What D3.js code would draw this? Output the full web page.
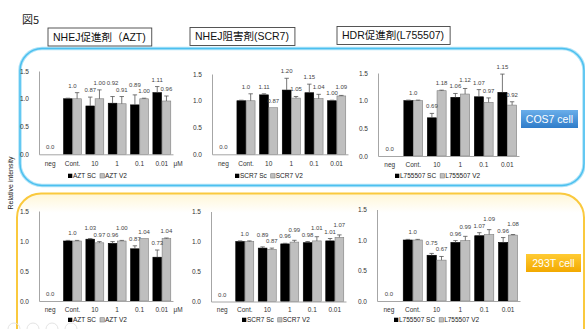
<!DOCTYPE html>
<html><head><meta charset="utf-8">
<script src="https://cdn.jsdelivr.net/npm/d3@7"></script>
<style>
body{margin:0;background:#fff;}
svg{display:block;font-family:"Liberation Sans",Arial,"Noto Sans CJK JP",sans-serif;}
</style>
</head><body>
<svg id="c" width="585" height="329"></svg>
<script>
// ---------- data ----------
const figureTitle = "図5";
const categories = ["neg", "Cont.", "10", "1", "0.1", "0.01"];
const tickValues = [0, 0.5, 1.0, 1.5];
const drugTitles = ["NHEJ促進剤（AZT)", "NHEJ阻害剤(SCR7)", "HDR促進剤(L755507)"];
const cellLabels = ["COS7 cell", "293T cell"];
const unitLabel = "μM";
const yAxisTitle = "Relative intensity";
const legendAZT = ["AZT SC", "AZT V2"];
const legendSCR7 = ["SCR7 Sc", "SCR7 V2"];
const legendL755 = ["L755507 SC", "L755507 V2"];

// COS7 cell
const cosAztSC      = [0, 1.0, 0.87, 0.92, 0.89, 1.11];
const cosAztSCErr   = [0, 0.01, 0.16, 0.12, 0.18, 0.11];
const cosAztV2      = [0, 1.0, 1.00, 0.91, 1.00, 0.96];
const cosAztV2Err   = [0, 0.11, 0.16, 0.13, 0.01, 0.09];
const cosScrSC      = [0, 1.0, 1.11, 1.20, 1.15, 1.00];
const cosScrSCErr   = [0, 0.01, 0.02, 0.22, 0.16, 0.01];
const cosScrV2      = [0, 1.0, 0.87, 1.05, 1.04, 1.09];
const cosScrV2Err   = [0, 0.13, 0.00, 0.03, 0.08, 0.01];
const cosL755SC     = [0, 1.0, 0.69, 1.06, 1.07, 1.15];
const cosL755SCErr  = [0, 0.01, 0.08, 0.07, 0.13, 0.33];
const cosL755V2     = [0, 1.0, 1.18, 1.12, 0.97, 0.92];
const cosL755V2Err  = [0, 0.01, 0.01, 0.10, 0.08, 0.06];
// 293T cell
const t293AztSC     = [0, 1.0, 1.03, 0.96, 0.87, 0.73];
const t293AztSCErr  = [0, 0.01, 0.01, 0.03, 0.05, 0.12];
const t293AztV2     = [0, 1.0, 0.97, 1.00, 1.04, 1.04];
const t293AztV2Err  = [0, 0.01, 0.02, 0.01, 0.00, 0.01];
const t293ScrSC     = [0, 1.0, 0.89, 0.96, 0.98, 1.01];
const t293ScrSCErr  = [0, 0.01, 0.02, 0.01, 0.02, 0.04];
const t293ScrV2     = [0, 1.0, 0.87, 0.99, 1.01, 1.07];
const t293ScrV2Err  = [0, 0.01, 0.02, 0.03, 0.07, 0.04];
const t293L755SC    = [0, 1.0, 0.75, 0.96, 1.07, 0.96];
const t293L755SCErr = [0, 0.01, 0.03, 0.03, 0.05, 0.08];
const t293L755V2    = [0, 1.0, 0.67, 0.99, 1.09, 1.08];
const t293L755V2Err = [0, 0.01, 0.06, 0.07, 0.08, 0.01];

// ---------- layout ----------
const panels = [
  {x0:39,  x1:173, yb:154.3, yt:71,  legX:68,  legY:176, xPad:7, unit:true,
   sc:cosAztSC, scErr:cosAztSCErr, v2:cosAztV2, v2Err:cosAztV2Err, leg:legendAZT},
  {x0:212, x1:348, yb:154.3, yt:74,  legX:235, legY:176, xPad:7, unit:false,
   sc:cosScrSC, scErr:cosScrSCErr, v2:cosScrV2, v2Err:cosScrV2Err, leg:legendSCR7},
  {x0:378, x1:519, yb:156,   yt:73,  legX:395, legY:176, xPad:6, unit:false,
   sc:cosL755SC, scErr:cosL755SCErr, v2:cosL755V2, v2Err:cosL755V2Err, leg:legendL755},
  {x0:39,  x1:173, yb:301,   yt:211, legX:68,  legY:320, xPad:6, unit:true,
   sc:t293AztSC, scErr:t293AztSCErr, v2:t293AztV2, v2Err:t293AztV2Err, leg:legendAZT},
  {x0:211, x1:346, yb:301.5, yt:211.5, legX:242, legY:320, xPad:6, unit:false,
   sc:t293ScrSC, scErr:t293ScrSCErr, v2:t293ScrV2, v2Err:t293ScrV2Err, leg:legendSCR7},
  {x0:377, x1:520, yb:301,   yt:209.5, legX:394, legY:320, xPad:6, unit:false,
   sc:t293L755SC, scErr:t293L755SCErr, v2:t293L755V2, v2Err:t293L755V2Err, leg:legendL755}
];

const svg = d3.select("#c");
const defs = svg.append("defs");
const gb = defs.append("linearGradient").attr("id","gBlue").attr("x1",0).attr("y1",0).attr("x2",0).attr("y2",1);
gb.append("stop").attr("offset","0%").attr("stop-color","#6aaeea");
gb.append("stop").attr("offset","100%").attr("stop-color","#2f7cc9");
const go = defs.append("linearGradient").attr("id","gOrange").attr("x1",0).attr("y1",0).attr("x2",0).attr("y2",1);
go.append("stop").attr("offset","0%").attr("stop-color","#ffcb33");
go.append("stop").attr("offset","100%").attr("stop-color","#f2a900");
const gy = defs.append("linearGradient").attr("id","gGlow").attr("x1",0).attr("y1",0).attr("x2",0).attr("y2",1);
gy.append("stop").attr("offset","0%").attr("stop-color","#fff6d6");
gy.append("stop").attr("offset","12%").attr("stop-color","#ffffff");

// frames
svg.append("rect").attr("x",17).attr("y",193.5).attr("width",567).attr("height",160)
  .attr("rx",24).attr("fill","url(#gGlow)").attr("stroke","#fac93e").attr("stroke-width",2);
svg.append("rect").attr("x",20).attr("y",48.5).attr("width",564).attr("height",137)
  .attr("rx",22).attr("fill","none").attr("stroke","#aee3f8").attr("stroke-width",3.5);
svg.append("rect").attr("x",20).attr("y",48.5).attr("width",564).attr("height",137)
  .attr("rx",22).attr("fill","none").attr("stroke","#4cc0ef").attr("stroke-width",1.5);

// faint watermark circles
[14, 33, 52, 71].forEach(cx => {
  svg.append("circle").attr("cx",cx).attr("cy",329).attr("r",6)
    .attr("fill","none").attr("stroke","#e4e4e4").attr("stroke-width",1);
});

// figure title
svg.append("text").attr("x",22).attr("y",24).attr("font-size",11)
  .attr("font-family","'Noto Sans CJK JP','Liberation Sans',sans-serif").attr("fill","#222").text(figureTitle);

// drug title boxes
const titlePos = [{x:53,cy:37},{x:195,cy:36.5},{x:342,cy:35.5}];
drugTitles.forEach((t,i) => {
  const g = svg.append("g");
  const r = g.append("rect");
  const tx = g.append("text").attr("x",titlePos[i].x).attr("y",titlePos[i].cy)
    .attr("dy","0.36em").attr("font-size",10.5).attr("fill","#111")
    .attr("font-family","'Liberation Sans','Noto Sans CJK JP',sans-serif").text(t);
  const w = tx.node().getComputedTextLength();
  r.attr("x",titlePos[i].x-5).attr("y",titlePos[i].cy-9).attr("width",w+11).attr("height",18)
   .attr("fill","#fff").attr("stroke","#444").attr("stroke-width",0.9);
});

// y axis title
svg.append("text").attr("transform","translate(13,183) rotate(-90)")
  .attr("text-anchor","middle").attr("font-size",7).attr("fill","#222").text(yAxisTitle);

// cell labels
const cellPos = [{x:521,y:110,w:57,h:18,fill:"url(#gBlue)"},{x:526,y:254,w:55,h:18,fill:"url(#gOrange)"}];
cellLabels.forEach((t,i) => {
  const c = cellPos[i];
  svg.append("rect").attr("x",c.x).attr("y",c.y).attr("width",c.w).attr("height",c.h).attr("fill",c.fill);
  svg.append("text").attr("x",c.x+c.w/2).attr("y",c.y+c.h/2).attr("dy","0.36em")
    .attr("text-anchor","middle").attr("font-size",10.5).attr("fill","#fff").text(t);
});

const fmt1 = d3.format(".1f"), fmt2 = d3.format(".2f");

function drawPanel(p) {
  const g = svg.append("g");
  const x = d3.scaleBand().domain(categories).range([p.x0, p.x1]).paddingInner(0.2).paddingOuter(0.1);
  const xs = d3.scaleBand().domain([0,1]).range([0, x.bandwidth()]).paddingInner(0.06);
  const y = d3.scaleLinear().domain([0, 1.5]).range([p.yb, p.yt]);

  const ya = g.append("g").attr("transform",`translate(${p.x0},0)`)
    .call(d3.axisLeft(y).tickValues(tickValues).tickFormat(fmt1).tickSize(0).tickPadding(10));
  ya.select(".domain").attr("stroke","#a6a6a6").attr("stroke-width",1);
  ya.selectAll("text").attr("font-size",6.5).attr("fill","#333").attr("font-family","'Liberation Sans',Arial,sans-serif");

  const series = [
    {vals:p.sc, errs:p.scErr, fill:"#000", stroke:"#000"},
    {vals:p.v2, errs:p.v2Err, fill:"#bfbfbf", stroke:"#7f7f7f"}
  ];
  series.forEach((s, si) => {
    const data = categories.map((c,i) => ({c, i, v:s.vals[i], e:s.errs[i]}));
    g.append("g").selectAll("rect").data(data.filter(d => d.v > 0)).join("rect")
      .attr("x", d => x(d.c) + xs(si)).attr("width", xs.bandwidth())
      .attr("y", d => y(d.v)).attr("height", d => y(0) - y(d.v))
      .attr("fill", s.fill).attr("stroke", s.stroke).attr("stroke-width", 0.6);
    const eg = g.append("g").selectAll("g").data(data.filter(d => d.v > 0 && d.e > 0.004)).join("g");
    eg.append("line")
      .attr("x1", d => x(d.c) + xs(si) + xs.bandwidth()/2).attr("x2", d => x(d.c) + xs(si) + xs.bandwidth()/2)
      .attr("y1", d => y(d.v)).attr("y2", d => y(d.v + d.e))
      .attr("stroke","#555").attr("stroke-width",0.8);
    eg.append("line")
      .attr("x1", d => x(d.c) + xs(si) + xs.bandwidth()/2 - 2.2).attr("x2", d => x(d.c) + xs(si) + xs.bandwidth()/2 + 2.2)
      .attr("y1", d => y(d.v + d.e)).attr("y2", d => y(d.v + d.e))
      .attr("stroke","#555").attr("stroke-width",0.8);
  });

  // x axis
  const xa = g.append("g").attr("transform",`translate(0,${p.yb})`)
    .call(d3.axisBottom(x).tickSize(0).tickSizeOuter(0).tickPadding(p.xPad));
  xa.select(".domain").attr("stroke","#a6a6a6").attr("stroke-width",1);
  xa.selectAll("text").attr("font-size",6.5).attr("fill","#333").attr("font-family","'Liberation Sans',Arial,sans-serif");

  // value labels
  const lab = g.append("g").attr("font-size",6).attr("fill","#444").attr("text-anchor","middle");
  lab.append("text").attr("x", x(categories[0]) + x.bandwidth()/2).attr("y", y(0) - 5).text(fmt1(p.sc[0]));
  const contTop = Math.max(p.sc[1] + p.scErr[1], p.v2[1] + p.v2Err[1]);
  lab.append("text").attr("x", x(categories[1]) + x.bandwidth()/2).attr("y", y(contTop) - 5).text(fmt1(p.sc[1]));
  categories.slice(2).forEach((c, k) => {
    const i = k + 2;
    const pts = series.map((s, si) => ({
      x: x(c) + xs(si) + xs.bandwidth()/2,
      y: y(s.vals[i] + s.errs[i]) - 5,
      t: fmt2(s.vals[i])
    }));
    // simple collision avoidance between the two labels of a category
    if (Math.abs(pts[0].y - pts[1].y) < 6.5) {
      const hi = pts[0].y <= pts[1].y ? pts[0] : pts[1];
      const lo = hi === pts[0] ? pts[1] : pts[0];
      hi.y = lo.y - 6.5;
    }
    pts.forEach(pt => lab.append("text").attr("x", pt.x).attr("y", pt.y).text(pt.t));
  });

  if (p.unit) {
    g.append("text").attr("x", p.x1 + 0.5).attr("y", p.yb + p.xPad + 4.6)
      .attr("font-size",6.5).attr("fill","#333").text(unitLabel);
  }

  // legend
  const lg = g.append("g").attr("transform",`translate(${p.legX},${p.legY})`).attr("font-size",6.5).attr("fill","#222");
  lg.append("rect").attr("x",0).attr("y",-2.3).attr("width",4.3).attr("height",4.3).attr("fill","#000");
  const t1 = lg.append("text").attr("x",5).attr("dy","0.35em").text(p.leg[0]);
  const x2 = 5 + t1.node().getComputedTextLength() + 4;
  lg.append("rect").attr("x",x2).attr("y",-2.3).attr("width",4.3).attr("height",4.3)
    .attr("fill","#bfbfbf").attr("stroke","#7f7f7f").attr("stroke-width",0.6);
  lg.append("text").attr("x",x2+5).attr("dy","0.35em").text(p.leg[1]);
}

panels.forEach(drawPanel);
</script>
</body></html>
